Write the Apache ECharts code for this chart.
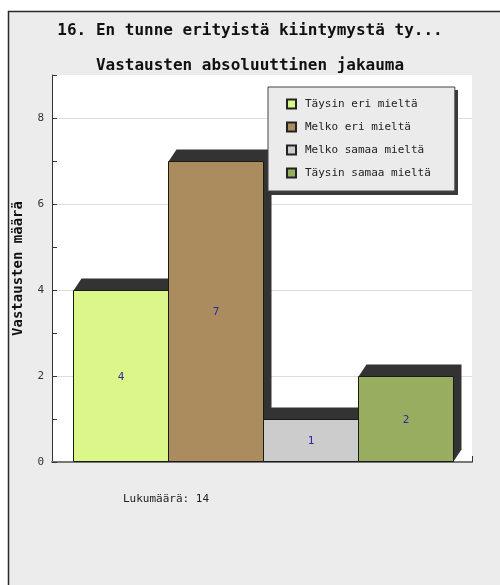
<!DOCTYPE html>
<html>
<head>
<meta charset="utf-8">
<script src="https://cdn.jsdelivr.net/npm/echarts@6/dist/echarts.min.js"></script>
<style>
  html, body { margin: 0; padding: 0; background: #ffffff; }
  #chart { width: 500px; height: 585px; }
</style>
</head>
<body>
<div id="chart"></div>
<script>
// Survey question and answer distribution
const chartTitle = '16. En tunne erityistä kiintymystä ty...';
const chartSubtitle = 'Vastausten absoluuttinen jakauma';
const categories = ['Täysin eri mieltä', 'Melko eri mieltä', 'Melko samaa mieltä', 'Täysin samaa mieltä'];
const counts = [4, 7, 1, 2];
const barColors = ['#dbf78a', '#ab8c5f', '#cccccc', '#99ad61'];
const yTickLabels = [0, 2, 4, 6, 8];
const yAxisTitle = 'Vastausten määrä';
const totalPrefix = 'Lukumäärä: ';

const MONO = '"DejaVu Sans Mono", "Liberation Mono", monospace';
const total = counts.reduce((a, b) => a + b, 0);

// Bars with an extruded dark back face
function makeRenderer(color) {
  return function (params, api) {
    const i = api.value(0);
    const v = api.value(1);
    const tl = api.coord([i, v]);
    const br = api.coord([i + 1, 0]);
    const dx = 8, dy = 12;
    const x0 = Math.round(tl[0]) + 0.5, y0 = Math.round(tl[1]) + 0.5;
    const x1 = Math.round(br[0]) + 0.5, y1 = Math.round(br[1]) - 0.5;
    return {
      type: 'group',
      children: [
        {
          type: 'polygon',
          shape: { points: [[x0, y0], [x0 + dx, y0 - dy], [x1 + dx, y0 - dy], [x1 + dx, y1 - dy], [x1, y1]] },
          style: { fill: '#333333' }
        },
        {
          type: 'rect',
          shape: { x: x0, y: y0, width: x1 - x0, height: y1 - y0 },
          style: { fill: color, stroke: '#1a1a1a', lineWidth: 1 }
        },
        {
          type: 'text',
          style: {
            text: String(v), x: (x0 + x1) / 2, y: (y0 + y1) / 2 + 1,
            align: 'center', verticalAlign: 'middle',
            fill: '#2a2a9c', font: '11px ' + MONO
          }
        }
      ]
    };
  };
}

const series = categories.map((name, i) => ({
  type: 'custom',
  name: name,
  color: barColors[i],
  itemStyle: { color: barColors[i], borderColor: '#222', borderWidth: 1 },
  renderItem: makeRenderer(barColors[i]),
  encode: { x: 0, y: 1 },
  data: [[i, counts[i]]],
  clip: false
}));

const chart = echarts.init(document.getElementById('chart'), null, { renderer: 'canvas' });
chart.setOption({
  animation: false,
  backgroundColor: '#ffffff',
  graphic: [
    {
      type: 'rect', z: -10,
      shape: { x: 8.5, y: 11.5, width: 520, height: 600 },
      style: { fill: '#ececec', stroke: '#2a2a2a', lineWidth: 1.5 }
    },
    {
      // drop shadow behind the legend box
      type: 'rect', z: 9,
      shape: { x: 271, y: 90, width: 187, height: 105 },
      style: { fill: '#3a3a3a' }
    },
    {
      type: 'text', left: 123, top: 494,
      style: { text: totalPrefix + total, font: '11px ' + MONO, fill: '#222' }
    }
  ],
  title: [
    {
      text: chartTitle, left: 'center', top: 18,
      textStyle: { fontFamily: MONO, fontSize: 16, fontWeight: 'bold', color: '#111' }
    },
    {
      text: chartSubtitle, left: 'center', top: 53,
      textStyle: { fontFamily: MONO, fontSize: 16, fontWeight: 'bold', color: '#111' }
    }
  ],
  legend: {
    orient: 'vertical',
    left: 268, top: 87,
    padding: [10, 24, 11, 18],
    itemWidth: 9, itemHeight: 9, itemGap: 9,
    icon: 'rect',
    backgroundColor: '#ebebeb',
    borderColor: '#444', borderWidth: 1,
    z: 10,
    textStyle: { fontFamily: MONO, fontSize: 11, color: '#222', lineHeight: 14, padding: [0, 0, 0, 4] },
    data: categories
  },
  grid: {
    left: 52, right: 28, top: 75, bottom: 123,
    outerBoundsMode: 'none',
    containLabel: false,
    show: true, backgroundColor: '#ffffff', borderWidth: 0
  },
  xAxis: {
    type: 'value', min: -0.22, max: 4.2,
    axisLine: { show: true, onZero: false, lineStyle: { color: '#777', width: 2 } },
    axisTick: { show: true, inside: true, length: 6, customValues: [4.2], lineStyle: { color: '#333' } },
    axisLabel: { show: false },
    splitLine: { show: false }
  },
  yAxis: {
    type: 'value', min: 0, max: 9, interval: 1,
    name: yAxisTitle, nameLocation: 'middle', nameRotate: 90, nameGap: 27,
    nameTextStyle: { fontFamily: MONO, fontSize: 14, fontWeight: 'bold', color: '#111' },
    axisLine: { show: true, onZero: false, lineStyle: { color: '#333', width: 1 } },
    axisTick: { show: true, inside: true, length: 5, lineStyle: { color: '#333' } },
    axisLabel: {
      margin: 8, fontFamily: MONO, fontSize: 11, color: '#333',
      formatter: v => (yTickLabels.indexOf(v) >= 0 ? String(v) : '')
    },
    splitLine: { show: true, lineStyle: { color: ['#dedede', 'rgba(0,0,0,0)'], width: 1 } }
  },
  series: series
});
</script>
</body>
</html>
